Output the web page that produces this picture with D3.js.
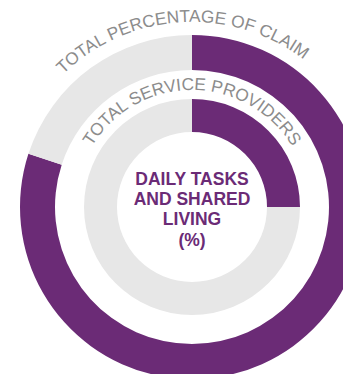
<!DOCTYPE html>
<html>
<head>
<meta charset="utf-8">
<script src="https://cdnjs.cloudflare.com/ajax/libs/d3/7.8.5/d3.min.js"></script>
<style>
  html, body { margin: 0; padding: 0; background: #fff; }
  svg { display: block; font-family: "Liberation Sans", Arial, sans-serif; }
</style>
</head>
<body>
<svg width="343" height="374"></svg>
<script>
// values (share of the ring, purple first, clockwise from 12 o'clock)
var ringLabels = ['TOTAL PERCENTAGE OF CLAIM', 'TOTAL SERVICE PROVIDERS'];
var outerValues = [80, 20];
var innerValues = [25, 75];
var centerLines = ['DAILY TASKS', 'AND SHARED', 'LIVING', '(%)'];

var purple = '#6b2b76', grey = '#e7e7e7', labelGrey = '#8c8c8c';
var cx = 192, cy = 207;

var svg = d3.select('svg');
var g = svg.append('g').attr('transform', 'translate(' + cx + ',' + cy + ')');

var pie = d3.pie().sort(null).value(function(d){ return d; });
var color = d3.scaleOrdinal().domain([0, 1]).range([purple, grey]);

var outerArc = d3.arc().innerRadius(137).outerRadius(172);
var innerArc = d3.arc().innerRadius(75).outerRadius(108);

g.selectAll('path.outer')
	.data(pie(outerValues))
	.enter()
	.append('path')
	.attr('class', 'outer')
	.attr('fill', function(d, i){ return color(i); })
	.attr('d', outerArc);

g.selectAll('path.inner')
	.data(pie(innerValues))
	.enter()
	.append('path')
	.attr('class', 'inner')
	.attr('fill', function(d, i){ return color(i); })
	.attr('d', innerArc);

// curved ring titles
var labelRadius = [185, 117];
var labelShift = [-3.5, 0]; // degrees, centre of the text relative to 12 o'clock
var defs = svg.append('defs');
ringLabels.forEach(function(txt, i) {
	var sh = labelShift[i] * Math.PI / 180;
	var p = d3.path();
	var r = labelRadius[i];
	p.moveTo(cx + r * Math.cos(Math.PI + sh), cy + r * Math.sin(Math.PI + sh));
	p.arc(cx, cy, r, Math.PI + sh, 2 * Math.PI + sh);
	defs.append('path').attr('id', 'lbl' + i).attr('d', p.toString());
	svg.append('text')
		.attr('font-size', 17.3)
		.attr('fill', labelGrey)
		.append('textPath')
		.attr('href', '#lbl' + i)
		.attr('startOffset', '50%')
		.attr('text-anchor', 'middle')
		.text(txt);
});

// centre title
var lineY = d3.scaleLinear().domain([0, centerLines.length - 1]).range([184.5, 245.5]);
svg.append('g')
	.selectAll('text')
	.data(centerLines)
	.enter()
	.append('text')
	.attr('x', cx)
	.attr('y', function(d, i){ return lineY(i); })
	.attr('text-anchor', 'middle')
	.attr('font-size', 17.5)
	.attr('font-weight', 'bold')
	.attr('fill', purple)
	.text(function(d){ return d; });
</script>
</body>
</html>
